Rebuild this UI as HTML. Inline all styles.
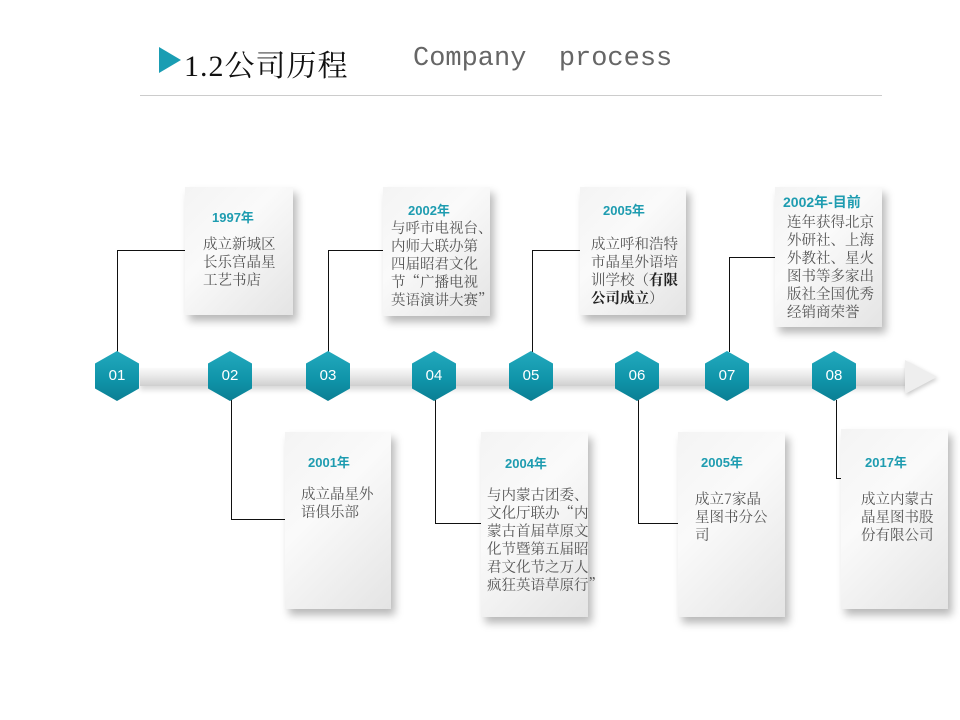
<!DOCTYPE html>
<html><head><meta charset="utf-8"><style>
body{margin:0;width:960px;height:720px;background:#fff;position:relative;overflow:hidden;font-family:"Liberation Sans","Noto Sans CJK SC",sans-serif}
.a{position:absolute}
.box{position:absolute;background:linear-gradient(135deg,#f4f4f4,#fafafa 40%,#e4e4e4);box-shadow:4px 6px 8px rgba(0,0,0,.28)}
.yr{position:absolute;color:#1e9cb0;font-weight:bold;font-size:13px;white-space:nowrap}
.tx{position:absolute;color:#555;font-size:14.5px;line-height:18px;white-space:nowrap;font-family:"Noto Serif CJK SC","Noto Sans CJK SC",serif}
.ln{position:absolute;background:#111}
.hex{position:absolute;width:44px;height:50px;clip-path:polygon(50% 0,100% 25%,100% 75%,50% 100%,0 75%,0 25%);background:linear-gradient(180deg,#22a9bd,#0f93a8 60%,#0b7f93);color:#fff;font-size:15px;text-align:center;line-height:50px}
</style></head><body>
<div class="a" style="left:159px;top:47px;width:0;height:0;border-left:22px solid #1a9db3;border-top:13px solid transparent;border-bottom:13px solid transparent"></div>
<div class="a" style="left:184px;top:41px;font:30px 'Liberation Serif','Noto Serif CJK SC',serif;color:#111;letter-spacing:1px">1.2公司历程</div>
<div class="a" style="left:413px;top:44px;font:27px 'Liberation Mono',monospace;color:#666;white-space:pre">Company  process</div>
<div class="a" style="left:140px;top:95px;width:742px;height:1px;background:#ccc"></div>

<div class="a" style="left:140px;top:368px;width:770px;height:18px;background:linear-gradient(180deg,#fafafa,#e6e6e6 50%,#cfcfcf);box-shadow:0 4px 5px rgba(0,0,0,.15)"></div>
<div class="a" style="left:905px;top:360px;width:0;height:0;border-left:32px solid #eee;border-top:17px solid transparent;border-bottom:17px solid transparent;filter:drop-shadow(1px 2px 2px rgba(0,0,0,.2))"></div>

<div class="ln" style="left:117px;top:250px;width:1px;height:102px"></div><div class="ln" style="left:117px;top:250px;width:68px;height:1px"></div>
<div class="ln" style="left:328px;top:250px;width:1px;height:102px"></div><div class="ln" style="left:328px;top:250px;width:55px;height:1px"></div>
<div class="ln" style="left:532px;top:250px;width:1px;height:102px"></div><div class="ln" style="left:532px;top:250px;width:48px;height:1px"></div>
<div class="ln" style="left:729px;top:257px;width:1px;height:95px"></div><div class="ln" style="left:729px;top:257px;width:46px;height:1px"></div>
<div class="ln" style="left:231px;top:400px;width:1px;height:119px"></div><div class="ln" style="left:231px;top:519px;width:54px;height:1px"></div>
<div class="ln" style="left:435px;top:400px;width:1px;height:123px"></div><div class="ln" style="left:435px;top:523px;width:46px;height:1px"></div>
<div class="ln" style="left:638px;top:400px;width:1px;height:123px"></div><div class="ln" style="left:638px;top:523px;width:40px;height:1px"></div>
<div class="ln" style="left:836px;top:400px;width:1px;height:78px"></div><div class="ln" style="left:836px;top:478px;width:5px;height:1px"></div>

<div class="hex" style="left:95px;top:351px">01</div>
<div class="hex" style="left:208px;top:351px">02</div>
<div class="hex" style="left:306px;top:351px">03</div>
<div class="hex" style="left:412px;top:351px">04</div>
<div class="hex" style="left:509px;top:351px">05</div>
<div class="hex" style="left:615px;top:351px">06</div>
<div class="hex" style="left:705px;top:351px">07</div>
<div class="hex" style="left:812px;top:351px">08</div>

<div class="box" style="left:185px;top:187px;width:108px;height:128px"><div class="yr" style="left:27px;top:20px">1997年</div><div class="tx" style="left:18px;top:48px">成立新城区<br>长乐宫晶星<br>工艺书店</div></div>
<div class="box" style="left:383px;top:187px;width:107px;height:129px"><div class="yr" style="left:25px;top:13px">2002年</div><div class="tx" style="left:8px;top:32px">与呼市电视台、<br>内师大联办第<br>四届昭君文化<br>节“广播电视<br>英语演讲大赛”</div></div>
<div class="box" style="left:580px;top:187px;width:106px;height:128px"><div class="yr" style="left:23px;top:13px">2005年</div><div class="tx" style="left:11px;top:48px">成立呼和浩特<br>市晶星外语培<br>训学校（<b style="color:#222">有限</b><br><b style="color:#222">公司成立</b>）</div></div>
<div class="box" style="left:775px;top:187px;width:107px;height:140px"><div class="yr" style="left:8px;top:5px;font-size:14px">2002年-目前</div><div class="tx" style="left:12px;top:26px">连年获得北京<br>外研社、上海<br>外教社、星火<br>图书等多家出<br>版社全国优秀<br>经销商荣誉</div></div>
<div class="box" style="left:285px;top:432px;width:106px;height:177px"><div class="yr" style="left:23px;top:20px">2001年</div><div class="tx" style="left:16px;top:53px">成立晶星外<br>语俱乐部</div></div>
<div class="box" style="left:481px;top:432px;width:107px;height:185px"><div class="yr" style="left:24px;top:21px">2004年</div><div class="tx" style="left:6px;top:54px">与内蒙古团委、<br>文化厅联办“内<br>蒙古首届草原文<br>化节暨第五届昭<br>君文化节之万人<br>疯狂英语草原行”</div></div>
<div class="box" style="left:678px;top:432px;width:107px;height:185px"><div class="yr" style="left:23px;top:20px">2005年</div><div class="tx" style="left:17px;top:58px">成立7家晶<br>星图书分公<br>司</div></div>
<div class="box" style="left:841px;top:429px;width:107px;height:180px"><div class="yr" style="left:24px;top:23px">2017年</div><div class="tx" style="left:20px;top:61px">成立内蒙古<br>晶星图书股<br>份有限公司</div></div>
</body></html>
